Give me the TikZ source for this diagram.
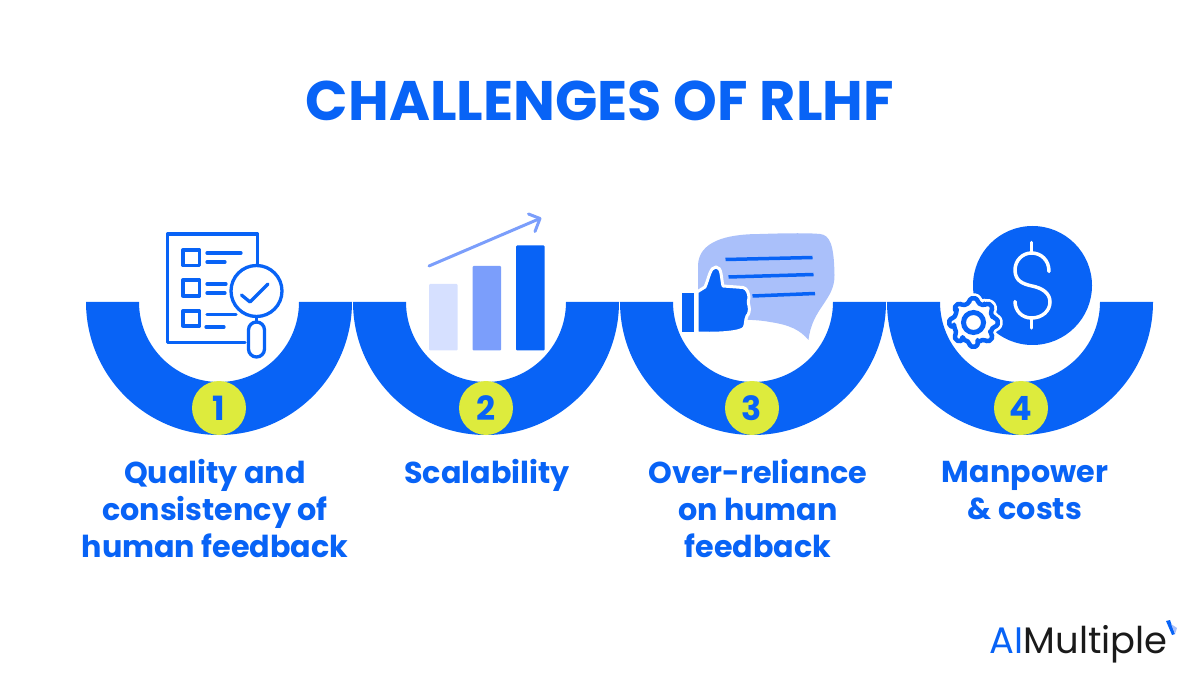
\documentclass[tikz,border=0pt]{standalone}
\usepackage{fontspec}
\setmainfont{Poppins}
\definecolor{rlhfblue}{HTML}{0863F6}
\definecolor{rlhflime}{HTML}{DDEB3D}
\definecolor{rlhfmid}{HTML}{7B9EFB}
\definecolor{rlhfpale}{HTML}{D6E0FF}
\definecolor{rlhfbubble}{HTML}{AAC0FA}
\definecolor{logoink}{HTML}{1A1A1A}
\begin{document}
\begin{tikzpicture}
        [
            x=0.02cm, y=-0.02cm,
            band/.style={fill=rlhfblue},
            badge/.style={circle, fill=rlhflime, text=rlhfblue, minimum size=1.08cm, inner sep=0pt, font=\fontsize{19}{19}\selectfont\bfseries},
            caption/.style={align=center, anchor=north, inner sep=0pt, text=rlhfblue, font=\fontsize{17.2}{21}\selectfont\bfseries},
            iconline/.style={draw=rlhfblue, line width=0.066cm, line cap=round, line join=round},
            whiteline/.style={draw=white, line width=0.07cm, line cap=round, line join=round},
            bar/.style={rounded corners=0.02cm}
        ]
        \useasboundingbox (0,0) rectangle (1200,675);
        %bands
        \fill[band] (86,302) arc (180:0:133) -- (299,302) arc (0:180:80) -- cycle;
        \fill[band] (353,302) arc (180:0:133) -- (566,302) arc (0:180:80) -- cycle;
        \fill[band] (620,302) arc (180:0:133) -- (833,302) arc (0:180:80) -- cycle;
        \fill[band] (887,302) arc (180:0:133) -- (1100,302) arc (0:180:80) -- cycle;
        %nodes
        \node[text=rlhfblue, font=\fontsize{31.7}{32}\selectfont\bfseries] at (600,101) (title) {CHALLENGES OF RLHF};
        \node[badge] at (219,408)                  (badge_1)     {1};
        \node[badge] at (486,408)                  (badge_2)     {2};
        \node[badge] at (752,408)                  (badge_3)     {3};
        \node[badge] at (1021,408)                 (badge_4)     {4};
        \node[caption] at (215,459)                (caption_1)   {Quality and\\consistency of\\human feedback};
        \node[caption] at (487,459)                (caption_2)   {Scalability};
        \node[caption] at (758,459)                (caption_3)   {Over-reliance\\on human\\feedback};
        \node[caption] at (1025,461)               (caption_4)   {Manpower\\\& costs};
        \node[anchor=east, inner sep=0pt, text=logoink, font=\fontsize{21}{21}\selectfont] at (1168,644) (logo) {\textcolor{rlhfblue}{AI}Multiple};
        %logo mark
        \fill[rlhfblue] (1166,621) -- (1170,620) -- (1175,634) -- (1172,635) -- cycle;
        \fill[rlhfbubble] (1171,624) -- (1177,628) -- (1175,634) -- cycle;
        %checklist
        \draw[iconline] (257.5,264) -- (257.5,234) -- (167.5,234) -- (167.5,342.5) -- (245,342.5);
        \draw[iconline] (183,250) rectangle (199.5,265.5);
        \draw[iconline] (183,280) rectangle (199.5,296);
        \draw[iconline] (183,311) rectangle (199.5,326);
        \draw[iconline] (207,253) -- (241,253);
        \draw[iconline] (207,262) -- (225,262);
        \draw[iconline] (207,284) -- (226,284);
        \draw[iconline] (207,293) -- (225,293);
        \draw[iconline] (207,314.5) -- (236,314.5);
        \draw[iconline] (206,327) -- (224,327);
        \draw[iconline] (256.5,291) circle (25.5);
        \draw[iconline] (241.5,295) -- (250,302) -- (268,284);
        \draw[iconline] (256.5,317) -- (256.5,322);
        \draw[iconline, rounded corners=0.16cm] (248.5,322) rectangle (264.5,357);
        %growth chart
        \fill[rlhfpale, bar] (429,284) rectangle (457.5,350.5);
        \fill[rlhfmid, bar] (472.5,266) rectangle (501,350.5);
        \fill[rlhfblue, bar] (516,245.5) rectangle (544.5,350.5);
        \draw[draw=rlhfmid, line width=0.06cm, line cap=round, line join=round] (429,266) -- (540,218.5);
        \draw[draw=rlhfmid, line width=0.06cm, line cap=round, line join=round] (528.5,214) -- (540,218.5) -- (535,231.5);
        %speech bubble
        \fill[rlhfbubble] (698,290) -- (698,265) .. controls (699,242) and (725,234) .. (760,234)
            .. controls (790,233) and (810,233) .. (820,234) .. controls (830,235) and (834,245) .. (834.5,275)
            .. controls (835,300) and (812,308) .. (808.5,340) .. controls (800,330) and (790,325) .. (770,322)
            .. controls (760,320) and (750,320) .. (735,319) -- cycle;
        \draw[draw=rlhfblue, line width=0.07cm] (725.5,259.5) -- (812.5,257.5);
        \draw[draw=rlhfblue, line width=0.07cm] (728.5,277) -- (813.5,274.5);
        \draw[draw=rlhfblue, line width=0.07cm] (752.5,296) -- (815,293.5);
        %thumb
        \fill[rlhfblue] (682,293.5) rectangle (693.5,332.5);
        \filldraw[fill=rlhfblue, draw=white, line width=0.06cm, line join=round] (697,292) -- (705,287)
            .. controls (709,278) and (710,267) .. (716,267) .. controls (722,267) and (721,278) .. (723,286)
            -- (743,287.5) .. controls (747,288) and (749,294) .. (749,298) .. controls (748,302) and (748,303) .. (749,306)
            .. controls (750,310) and (749,314) .. (747,316) .. controls (745,320) and (746,325) .. (744,328)
            .. controls (741,332) and (720,334) .. (697,333) -- cycle;
        %coin
        \fill[rlhfblue] (1032.5,285.5) circle (59.5);
        \draw[whiteline] (1031.5,242.5) -- (1031.5,253);
        \draw[whiteline] (1031.5,318) -- (1031.5,328);
        \draw[whiteline] (1049,271.5) .. controls (1049,260) and (1041,253) .. (1031.5,253)
            .. controls (1022,253) and (1015,261) .. (1015,270) .. controls (1015,281) and (1023,284) .. (1032,286)
            .. controls (1042,288) and (1050,293) .. (1050,302) .. controls (1050,311) and (1042,318) .. (1031.5,318)
            .. controls (1022,318) and (1015,311) .. (1015,301.5);
        %gear
        \begin{scope}[shift={(973.5,322.5)}]
            \filldraw[fill=white, draw=white, line width=0.2cm, line join=round, rounded corners=0.04cm]
                (-12:20) \foreach \a in {0,45,...,315} { -- (\a-12:20) -- (\a-9:24.5) -- (\a+9:24.5) -- (\a+12:20) -- (\a+33:20) } -- cycle;
            \draw[draw=rlhfblue, line width=0.09cm, line join=round, rounded corners=0.04cm]
                (-12:20) \foreach \a in {0,45,...,315} { -- (\a-12:20) -- (\a-9:24.5) -- (\a+9:24.5) -- (\a+12:20) -- (\a+33:20) } -- cycle;
            \draw[draw=rlhfblue, line width=0.1cm] (0,0) circle (10);
        \end{scope}
\end{tikzpicture}
\end{document}
